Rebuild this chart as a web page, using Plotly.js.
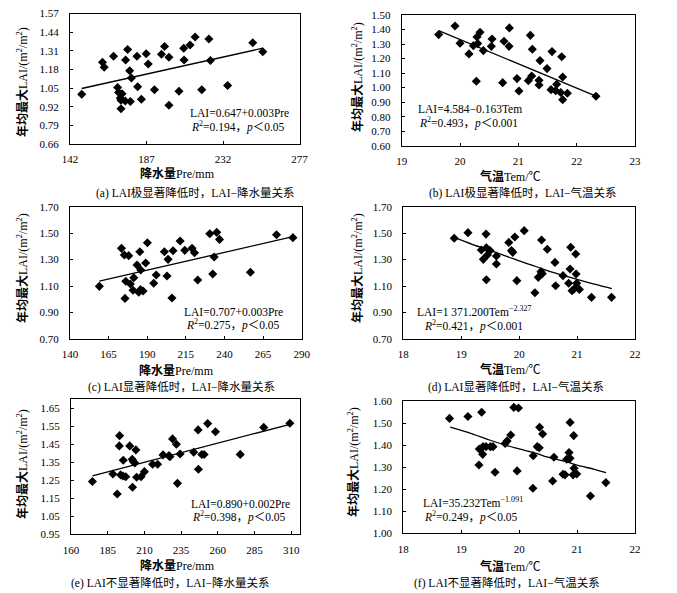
<!DOCTYPE html>
<html>
<head>
<meta charset="utf-8">
<script src="https://cdn.plot.ly/plotly-3.0.1.min.js"></script>
<style>html,body{margin:0;padding:0;background:#fff;}#chart{width:677px;height:593px;}</style>
</head>
<body>
<div id="chart"></div>
<script>
// ---------- Data ----------
// (a) LAI extremely significant decrease: precipitation
const aPre = [148.9,161.1,162.1,167.6,174.7,175.9,177.1,178.1,181.4,181.8,186.8,188.0,170.0,170.6,172.6,171.6,172.0,174.5,177.5,172.0,184.0,191.7,195.8,197.6,200.2,200.2,206.1,208.9,209.1,212.6,215.6,219.5,223.7,224.6,234.7,249.5,255.4];
const aLAI = [1.007,1.230,1.195,1.272,1.246,1.319,1.171,1.120,1.272,1.059,1.289,1.218,1.054,1.019,1.010,0.981,0.965,0.960,0.956,0.906,0.972,1.038,1.286,1.340,1.265,0.930,1.028,1.328,1.246,1.350,1.406,1.038,1.392,1.242,1.068,1.366,1.303];
const aFitX = [148.9,255.4];
const aFitY = [1.047,1.328];
// (b) LAI extremely significant decrease: temperature
const bTem = [19.634,19.914,20.0,20.154,20.229,20.291,20.343,20.303,20.4,20.537,20.549,20.28,20.754,20.846,20.84,20.731,20.977,21.011,21.171,21.229,21.206,21.24,21.354,21.354,21.371,21.491,21.577,21.56,21.64,21.657,21.726,21.743,21.76,21.76,21.84,22.331];
const bLAI = [1.365,1.424,1.305,1.232,1.289,1.349,1.381,1.303,1.255,1.284,1.335,1.044,1.319,1.411,1.284,1.034,1.062,0.977,1.048,1.080,1.360,1.264,1.050,1.018,1.186,1.131,1.248,0.986,0.979,1.023,0.966,1.213,1.073,0.917,0.961,0.940];
const bFitX = [19.634,22.34];
const bFitY = [1.392,0.940];
// (c) LAI significant decrease: precipitation
const cPre = [159.0,173.3,175.2,178.0,176.1,175.6,179.1,180.8,181.3,183.4,185.2,185.8,184.5,185.6,187.3,189.0,190.1,195.8,194.2,201.1,202.8,203.5,206.7,206.0,211.3,214.3,219.0,220.6,222.7,230.5,235.0,236.8,233.3,232.4,256.8,273.7,284.3];
const cLAI = [1.098,1.385,1.335,1.330,1.136,1.007,1.116,1.068,1.163,1.259,1.360,1.221,1.053,1.073,1.063,1.274,1.428,1.184,1.121,1.360,1.176,1.302,1.367,1.010,1.441,1.370,1.385,1.352,1.146,1.496,1.506,1.453,1.320,1.191,1.204,1.488,1.466];
const cFitX = [159.0,284.3];
const cFitY = [1.138,1.473];
// (d) LAI significant decrease: temperature
const dTem = [18.879,19.116,19.347,19.382,19.428,19.434,19.451,19.497,19.434,19.607,19.607,19.821,19.867,19.89,19.925,19.96,20.087,20.272,20.33,20.376,20.387,20.399,20.486,20.618,20.63,20.757,20.855,20.89,20.879,20.913,20.948,20.977,20.983,20.994,21.04,21.249,21.595];
const dLAI = [1.461,1.504,1.373,1.302,1.493,1.390,1.335,1.368,1.148,1.327,1.267,1.430,1.368,1.355,1.471,1.141,1.519,1.050,1.166,1.209,1.448,1.194,1.378,1.279,1.103,1.179,1.121,1.393,1.229,1.065,1.078,1.342,1.191,1.121,1.075,1.015,1.015];
const dFitX = [18.88,19.2,19.5,19.8,20.0,20.3,20.5,20.8,21.0,21.3,21.6];
const dFitY = [1.468,1.414,1.370,1.322,1.290,1.246,1.215,1.176,1.150,1.114,1.080];
// (e) LAI not significant decrease: precipitation
const ePre = [174.6,188.5,191.5,193.1,192.9,193.8,195.6,195.4,197.3,200.0,201.7,202.4,201.9,203.5,204.2,204.7,207.7,210.0,215.6,219.0,222.7,226.7,227.4,229.2,231.8,232.5,234.3,243.6,246.6,246.8,249.1,250.7,253.1,258.4,275.3,291.3,309.1];
const eLAI = [1.243,1.285,1.174,1.498,1.441,1.280,1.361,1.274,1.270,1.441,1.367,1.354,1.211,1.346,1.419,1.267,1.270,1.298,1.339,1.339,1.391,1.387,1.381,1.480,1.450,1.233,1.396,1.406,1.530,1.311,1.393,1.393,1.565,1.520,1.394,1.544,1.567];
const eFitX = [174.6,309.1];
const eFitY = [1.274,1.561];
// (f) LAI not significant decrease: temperature
const fTem = [18.798,19.116,19.353,19.312,19.376,19.37,19.306,19.428,19.503,19.549,19.584,19.757,19.792,19.855,19.908,19.988,19.965,20.243,20.237,20.312,20.347,20.353,20.405,20.578,20.601,20.757,20.792,20.821,20.861,20.879,20.879,20.942,20.948,20.931,20.994,21.231,21.497];
const fLAI = [1.521,1.530,1.549,1.382,1.393,1.358,1.310,1.393,1.393,1.393,1.277,1.407,1.419,1.446,1.571,1.568,1.283,1.352,1.204,1.393,1.388,1.481,1.450,1.237,1.345,1.268,1.265,1.336,1.366,1.340,1.503,1.443,1.295,1.265,1.269,1.169,1.230];
const fFitX = [18.81,19.2,19.5,19.8,20.0,20.3,20.5,20.8,21.0,21.3,21.5];
const fFitY = [1.481,1.450,1.422,1.397,1.383,1.362,1.345,1.326,1.309,1.290,1.275];

// tick values
const aXTicks = [142,187,232,277];
const aYTicks = [0.66,0.79,0.92,1.05,1.18,1.31,1.44,1.57];
const bXTicks = [19,20,21,22,23];
const bYTicks = [0.60,0.70,0.80,0.90,1.00,1.10,1.20,1.30,1.40,1.50];
const cXTicks = [140,165,190,215,240,265,290];
const cYTicks = [0.70,0.90,1.10,1.30,1.50,1.70];
const dXTicks = [18,19,20,21,22];
const dYTicks = [0.70,0.90,1.10,1.30,1.50,1.70];
const eXTicks = [160,185,210,235,260,285,310];
const eYTicks = [0.95,1.05,1.15,1.25,1.35,1.45,1.55,1.65];
const fXTicks = [18,19,20,21,22];
const fYTicks = [1.00,1.10,1.20,1.30,1.40,1.50,1.60];

// text
const yTitle = '<b>年均最大</b>LAI/(m<sup>2</sup>/m<sup>2</sup>)';
const xTitlePre = '<b>降水量</b>Pre/mm';
const xTitleTem = '<b>气温</b>Tem/℃';
const captions = [
  '(a) LAI极显著降低时，LAI−降水量关系',
  '(b) LAI极显著降低时，LAI−气温关系',
  '(c) LAI显著降低时，LAI−降水量关系',
  '(d) LAI显著降低时，LAI−气温关系',
  '(e) LAI不显著降低时，LAI−降水量关系',
  '(f) LAI不显著降低时，LAI−气温关系'
];
const eqLine1 = [
  'LAI=0.647+0.003Pre',
  'LAI=4.584−0.163Tem',
  'LAI=0.707+0.003Pre',
  'LAI=1 371.200Tem<sup>−2.327</sup>',
  'LAI=0.890+0.002Pre',
  'LAI=35.232Tem<sup>−1.091</sup>'
];
const eqLine2 = [
  '<i>R</i><sup>2</sup>=0.194，<i>p</i>＜0.05',
  '<i>R</i><sup>2</sup>=0.493，<i>p</i>＜0.001',
  '<i>R</i><sup>2</sup>=0.275，<i>p</i>＜0.05',
  '<i>R</i><sup>2</sup>=0.421，<i>p</i>＜0.001',
  '<i>R</i><sup>2</sup>=0.398，<i>p</i>＜0.05',
  '<i>R</i><sup>2</sup>=0.249，<i>p</i>＜0.05'
];

// ---------- Layout helpers ----------
const W = 677, H = 593;
const FONT = '"Liberation Serif", "Times New Roman", "Noto Sans CJK SC", serif';
const px = v => v / W;
const py = v => 1 - v / H;

const panels = [
  {x: aPre, y: aLAI, fx: aFitX, fy: aFitY, xt: aXTicks, yt: aYTicks, xr: [142,277], yr: [0.66,1.57], dom: [70,299.5,13.5,144], xtitle: xTitlePre,
   eq1: [239,113.5], eq2: [238,126.5], cap: [194.5,193.3], xtl: [177.5,174], ytl: [22,82]},
  {x: bTem, y: bLAI, fx: bFitX, fy: bFitY, xt: bXTicks, yt: bYTicks, xr: [19,23], yr: [0.6,1.5], dom: [401.7,635,15,145.7], xtitle: xTitleTem,
   eq1: [469.5,109.5], eq2: [468.3,122.2], cap: [523,193.3], xtl: [511,176.7], ytl: [358,77]},
  {x: cPre, y: cLAI, fx: cFitX, fy: cFitY, xt: cXTicks, yt: cYTicks, xr: [140,290], yr: [0.7,1.7], dom: [70,301.7,206.7,339], xtitle: xTitlePre,
   eq1: [233.3,311.8], eq2: [233,324.5], cap: [181,386.7], xtl: [176.7,370], ytl: [22,268]},
  {x: dTem, y: dLAI, fx: dFitX, fy: dFitY, xt: dXTicks, yt: dYTicks, xr: [18,22], yr: [0.7,1.7], dom: [403.3,635,206.7,339], xtitle: xTitleTem,
   eq1: [474,310.8], eq2: [473,325.2], cap: [516,386.7], xtl: [511,369], ytl: [357,268]},
  {x: ePre, y: eLAI, fx: eFitX, fy: eFitY, xt: eXTicks, yt: eYTicks, xr: [160,316], yr: [0.95,1.70], dom: [71,300,399.3,534.3], xtitle: xTitlePre,
   eq1: [241,503.8], eq2: [239,516.5], cap: [170,583.3], xtl: [177.5,565], ytl: [22,464]},
  {x: fTem, y: fLAI, fx: fFitX, fy: fFitY, xt: fXTicks, yt: fYTicks, xr: [18,22], yr: [1.0,1.6], dom: [403.3,635,401,533.3], xtitle: xTitleTem,
   eq1: [472.8,502.3], eq2: [471,516.4], cap: [506.7,583.3], xtl: [511,566.7], ytl: [353,462]}
];

const traces = [];
const layout = {
  width: W, height: H,
  margin: {l: 0, r: 0, t: 0, b: 0},
  paper_bgcolor: '#fff', plot_bgcolor: '#fff',
  showlegend: false,
  font: {family: FONT, size: 11, color: '#000'},
  annotations: []
};

panels.forEach((p, i) => {
  const n = i === 0 ? '' : String(i + 1);
  const xa = 'x' + n, ya = 'y' + n;
  traces.push({
    type: 'scatter', mode: 'markers', x: p.x, y: p.y, xaxis: xa, yaxis: ya,
    marker: {symbol: 'diamond', size: 7, color: '#000'}, cliponaxis: false, hoverinfo: 'skip'
  });
  traces.push({
    type: 'scatter', mode: 'lines', x: p.fx, y: p.fy, xaxis: xa, yaxis: ya,
    line: {color: '#000', width: 1.3, shape: p.fx.length > 2 ? 'spline' : 'linear'}, hoverinfo: 'skip'
  });
  const common = {
    showline: true, linecolor: '#000', linewidth: 1, mirror: true,
    ticks: 'inside', ticklen: 3, tickwidth: 1, tickcolor: '#000',
    showgrid: false, zeroline: false, fixedrange: true,
    tickfont: {family: FONT, size: 11, color: '#000'}
  };
  layout['xaxis' + n] = Object.assign({}, common, {
    domain: [px(p.dom[0]), px(p.dom[1])], range: p.xr, tickmode: 'array', tickvals: p.xt,
    ticktext: p.xt.map(String), anchor: ya, ticklabelstandoff: 5
  });
  layout['yaxis' + n] = Object.assign({}, common, {
    domain: [py(p.dom[3]), py(p.dom[2])], range: p.yr, tickmode: 'array', tickvals: p.yt,
    ticktext: p.yt.map(v => v.toFixed(2)), anchor: xa, ticklabelstandoff: 8
  });
  const ann = (text, xy, size, extra) => Object.assign({
    text, x: px(xy[0]), y: py(xy[1]), xref: 'paper', yref: 'paper',
    xanchor: 'center', yanchor: 'middle', showarrow: false,
    font: {family: FONT, size: size, color: '#000'}
  }, extra || {});
  layout.annotations.push(ann(p.xtitle, p.xtl, 12));
  layout.annotations.push(ann(yTitle, p.ytl, 12, {textangle: -90}));
  layout.annotations.push(ann(eqLine1[i], p.eq1, 11.5));
  layout.annotations.push(ann(eqLine2[i], p.eq2, 11.5));
  layout.annotations.push(ann(captions[i], p.cap, 11.5));
});

Plotly.newPlot('chart', traces, layout, {staticPlot: true, displayModeBar: false});
</script>
</body>
</html>
